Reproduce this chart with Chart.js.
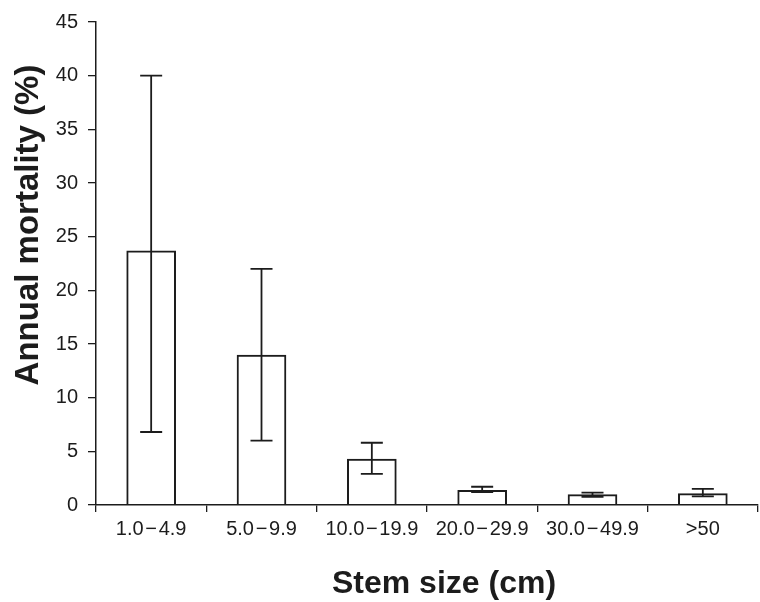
<!DOCTYPE html>
<html>
  <head>
    <title>Annual mortality by stem size</title>
    <script src="https://cdn.jsdelivr.net/npm/chart.js@4.4.0/dist/chart.umd.min.js"></script>
    <style>
      body {
        margin: 0;
        background: #fff;
      }
    </style>
  </head>
  <body>
    <canvas id="myChart" width="760" height="602"></canvas>
    <script>
      // stem size classes (cm)
      const sizeClasses = [
        "1.0\u200a\u2212\u200a4.9",
        "5.0\u200a\u2212\u200a9.9",
        "10.0\u200a\u2212\u200a19.9",
        "20.0\u200a\u2212\u200a29.9",
        "30.0\u200a\u2212\u200a49.9",
        ">50",
      ];
      // annual mortality (%) and error bar ends
      const mortality = [23.7, 14.0, 4.3, 1.4, 1.0, 1.1];
      const errHigh = [40.0, 22.0, 5.8, 1.7, 1.15, 1.5];
      const errLow = [6.8, 6.0, 2.9, 1.2, 0.75, 0.8];

      const yTitle = "Annual mortality (%)";
      const xTitle = "Stem size (cm)";

      const ink = "#1c1c1c";

      // error bars, drawn from the y scale
      const errorBars = {
        id: "errorBars",
        afterDatasetsDraw(chart) {
          const ctx = chart.ctx;
          const y = chart.scales.y;
          const meta = chart.getDatasetMeta(0);
          ctx.save();
          ctx.strokeStyle = ink;
          ctx.lineWidth = 1.8;
          meta.data.forEach((bar, i) => {
            const top = y.getPixelForValue(errHigh[i]);
            const bottom = y.getPixelForValue(errLow[i]);
            const half = 11;
            ctx.beginPath();
            ctx.moveTo(bar.x, top);
            ctx.lineTo(bar.x, bottom);
            ctx.moveTo(bar.x - half, top);
            ctx.lineTo(bar.x + half, top);
            ctx.moveTo(bar.x - half, bottom);
            ctx.lineTo(bar.x + half, bottom);
            ctx.stroke();
          });
          ctx.restore();
        },
      };

      // axis titles
      const axisTitles = {
        id: "axisTitles",
        afterDraw(chart) {
          const ctx = chart.ctx;
          ctx.save();
          ctx.fillStyle = ink;
          ctx.font = "bold 33px 'Liberation Sans', Arial, sans-serif";
          ctx.textAlign = "center";
          ctx.textBaseline = "alphabetic";
          ctx.translate(38, 225);
          ctx.rotate(-Math.PI / 2);
          ctx.fillText(yTitle, 0, 0);
          ctx.restore();

          ctx.save();
          ctx.fillStyle = ink;
          ctx.font = "bold 32px 'Liberation Sans', Arial, sans-serif";
          ctx.textAlign = "center";
          ctx.textBaseline = "alphabetic";
          ctx.fillText(xTitle, 444, 593);
          ctx.restore();
        },
      };

      const chart = new Chart(document.getElementById("myChart"), {
        type: "bar",
        data: {
          labels: sizeClasses,
          datasets: [
            {
              label: "Annual mortality",
              data: mortality,
              backgroundColor: "rgba(255,255,255,0)",
              borderColor: ink,
              borderWidth: 2,
              categoryPercentage: 1,
              barPercentage: 0.45,
            },
          ],
        },
        options: {
          responsive: false,
          animation: false,
          layout: {
            padding: { top: 20, right: 2, left: 0, bottom: 0 },
          },
          plugins: {
            legend: { display: false },
            tooltip: { enabled: false },
          },
          scales: {
            x: {
              offset: true,
              afterFit: (scale) => {
                scale.height = 97;
              },
              border: { display: true, color: ink, width: 1.5 },
              grid: {
                offset: true,
                drawOnChartArea: false,
                drawTicks: true,
                tickLength: 7,
                color: ink,
                lineWidth: 1.3,
              },
              ticks: {
                color: ink,
                padding: 5,
                maxRotation: 0,
                autoSkip: false,
                font: { family: "'Liberation Sans', Arial, sans-serif", size: 20 },
              },
            },
            y: {
              min: 0,
              max: 45,
              afterFit: (scale) => {
                scale.width = 96;
              },
              border: { display: true, color: ink, width: 1.5 },
              grid: {
                drawOnChartArea: false,
                drawTicks: true,
                tickLength: 8,
                color: ink,
                lineWidth: 1.3,
              },
              ticks: {
                stepSize: 5,
                color: ink,
                padding: 10,
                font: { family: "'Liberation Sans', Arial, sans-serif", size: 20 },
              },
            },
          },
        },
        plugins: [errorBars, axisTitles],
      });
    </script>
  </body>
</html>
